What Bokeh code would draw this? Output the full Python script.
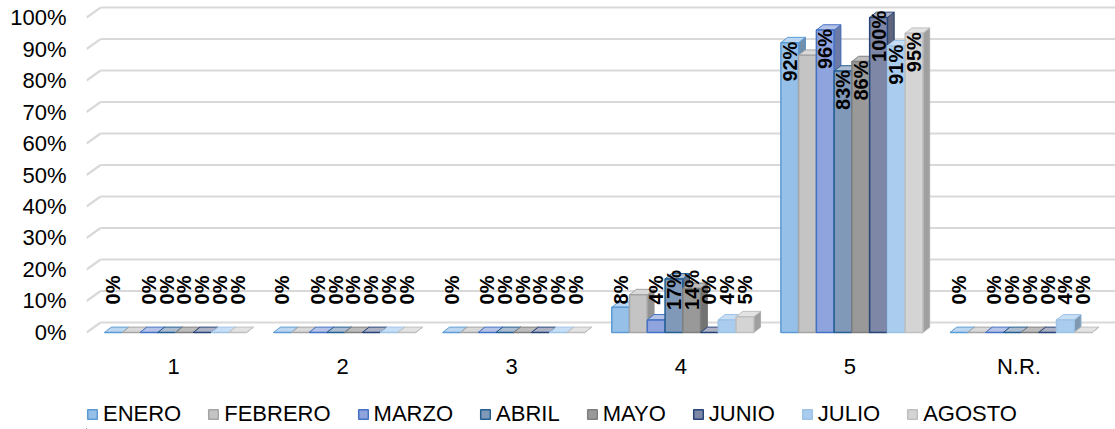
import math
from bokeh.plotting import figure
from bokeh.layouts import column
from bokeh.models import ColumnDataSource, FixedTicker, Legend, LegendItem, Range1d
from bokeh.core.properties import value
from bokeh.embed import file_html
from bokeh.resources import INLINE

# ---------------- data ----------------
categories = ["1", "2", "3", "4", "5", "N.R."]
series_names = ["ENERO", "FEBRERO", "MARZO", "ABRIL", "MAYO", "JUNIO", "JULIO", "AGOSTO"]
enero = [0, 0, 0, 8, 92, 0]
febrero = [0, 0, 0, 12, 88, 0]
marzo = [0, 0, 0, 4, 96, 0]
abril = [0, 0, 0, 17, 83, 0]
mayo = [0, 0, 0, 14, 86, 0]
junio = [0, 0, 0, 0, 100, 0]
julio = [0, 0, 0, 4, 91, 4]
agosto = [0, 0, 0, 5, 95, 0]
y_ticks = [0, 10, 20, 30, 40, 50, 60, 70, 80, 90, 100]
labelled = [True, False, True, True, True, True, True, True]

series_values = [enero, febrero, marzo, abril, mayo, junio, julio, agosto]

# ---------------- style ----------------
FONT = "Liberation Sans"
front_fill = ["#97C0E8", "#C4C4C4", "#8FA3DD", "#8099B9", "#999999", "#7F87A6", "#AACCEF", "#D4D4D4"]
edge = ["#5B9BD5", "#A5A5A5", "#4472C4", "#255E91", "#7F7F7F", "#264478", "#9DC3E6", "#BFBFBF"]


def mix(hex_color, other, t):
    h = hex_color.lstrip("#")
    o = other.lstrip("#")
    c = [int(h[i:i + 2], 16) for i in (0, 2, 4)]
    d = [int(o[i:i + 2], 16) for i in (0, 2, 4)]
    r = [round(a + (b - a) * t) for a, b in zip(c, d)]
    return "#%02x%02x%02x" % tuple(r)


n_series = len(series_names)
bar_w = 0.105
shift = 0.012
depth_x = 0.04
depth_y = 1.7
grid_dx = 0.083
grid_dy = 3.17

W = 1115
H_MAIN, H_LEG = 387, 42
x_start = -0.5145
x_end = 5.571
y_start, y_end = -4.13, 105.4

p = figure(width=W, height=H_MAIN, output_backend="svg", toolbar_location=None,
           x_range=Range1d(x_start, x_end), y_range=Range1d(y_start, y_end),
           min_border_left=86, min_border_right=0, min_border_top=0,
           min_border_bottom=42)
p.outline_line_color = None
p.xgrid.visible = False
p.ygrid.visible = False
p.background_fill_color = "white"
p.border_fill_color = "white"

# back-wall gridlines with a slanted 3D lead-in on the left
gx0, gy0, gx1, gy1 = [], [], [], []
for t in y_ticks:
    gx0 += [x_start, x_start + grid_dx]
    gy0 += [t, t + grid_dy]
    gx1 += [x_start + grid_dx, x_end]
    gy1 += [t + grid_dy, t + grid_dy]
p.segment(x0=gx0, y0=gy0, x1=gx1, y1=gy1, line_color="#D9D9D9", line_width=2.2)

# bars (front, top, side faces)
lab_x, lab_y, lab_t = [], [], []
for i, (name, vals) in enumerate(zip(series_names, series_values)):
    xs = [c + shift + (i - (n_series - 1) / 2) * bar_w for c in range(len(categories))]
    top_xs, top_ys, side_xs, side_ys = [], [], [], []
    for x, v in zip(xs, vals):
        l, r = x - bar_w / 2, x + bar_w / 2
        top_xs.append([l, r, r + depth_x, l + depth_x])
        top_ys.append([v, v, v + depth_y, v + depth_y])
        side_xs.append([r, r + depth_x, r + depth_x, r])
        side_ys.append([0, depth_y, v + depth_y, v])
        if labelled[i]:
            lab_x.append(x)
            lab_y.append(max(v - 6, 13.5))
            lab_t.append(f"{v}%")
    p.patches(xs=side_xs, ys=side_ys, fill_color=mix(front_fill[i], "#000000", 0.25),
              line_color=mix(edge[i], "#000000", 0.1), line_width=1)
    p.patches(xs=top_xs, ys=top_ys, fill_color=mix(front_fill[i], "#ffffff", 0.35),
              line_color=edge[i], line_width=1)
    src = ColumnDataSource(dict(x=xs, top=vals))
    p.vbar(x="x", top="top", bottom=0, width=bar_w, source=src,
           fill_color=front_fill[i], line_color=edge[i], line_width=1.5)

# data labels
p.text(x=lab_x, y=lab_y, text=lab_t, angle=math.pi / 2, text_align="center",
       text_baseline="middle", text_font=value(FONT), text_font_style="bold",
       text_font_size="20px", text_color="#000000")

# axes
p.yaxis.ticker = FixedTicker(ticks=y_ticks)
p.yaxis.major_label_overrides = {t: f"{t}%" for t in y_ticks}
p.xaxis.ticker = FixedTicker(ticks=list(range(len(categories))))
p.xaxis.major_label_overrides = {i: c for i, c in enumerate(categories)}
for ax in (p.xaxis[0], p.yaxis[0]):
    ax.axis_line_color = None
    ax.major_tick_line_color = None
    ax.minor_tick_line_color = None
    ax.major_label_text_font = FONT
    ax.major_label_text_font_size = "22px"
    ax.major_label_text_color = "#000000"
p.yaxis.major_label_standoff = 14
p.xaxis.major_label_standoff = 2

# ---------------- legend strip (separate small figure) ----------------
# the strip's view window lies far away from the data, so its bars only feed the legend swatches
lf = figure(width=W, height=H_LEG, output_backend="svg", toolbar_location=None,
            x_range=Range1d(100, 101), y_range=Range1d(1000, 1001),
            x_axis_type=None, y_axis_type=None,
            min_border_left=0, min_border_right=0, min_border_top=0, min_border_bottom=0)
lf.outline_line_color = None
lf.xgrid.visible = False
lf.ygrid.visible = False
legend_items = []
for i, (name, vals) in enumerate(zip(series_names, series_values)):
    rr = lf.vbar(x=list(range(len(categories))), top=vals, bottom=0, width=bar_w,
                 fill_color=front_fill[i], line_color=edge[i], line_width=1.5)
    legend_items.append(LegendItem(label=name, renderers=[rr]))

legend = Legend(items=legend_items, orientation="horizontal", location=(0, 2),
                label_text_font=FONT, label_text_font_size="22px", label_text_color="#000000",
                glyph_width=12, glyph_height=12, label_standoff=5, spacing=26,
                padding=0, margin=0, border_line_color=None, background_fill_alpha=0)
lf.add_layout(legend)

layout = column(p, lf, spacing=0)
open("out.html", "w").write(file_html(layout, INLINE))
